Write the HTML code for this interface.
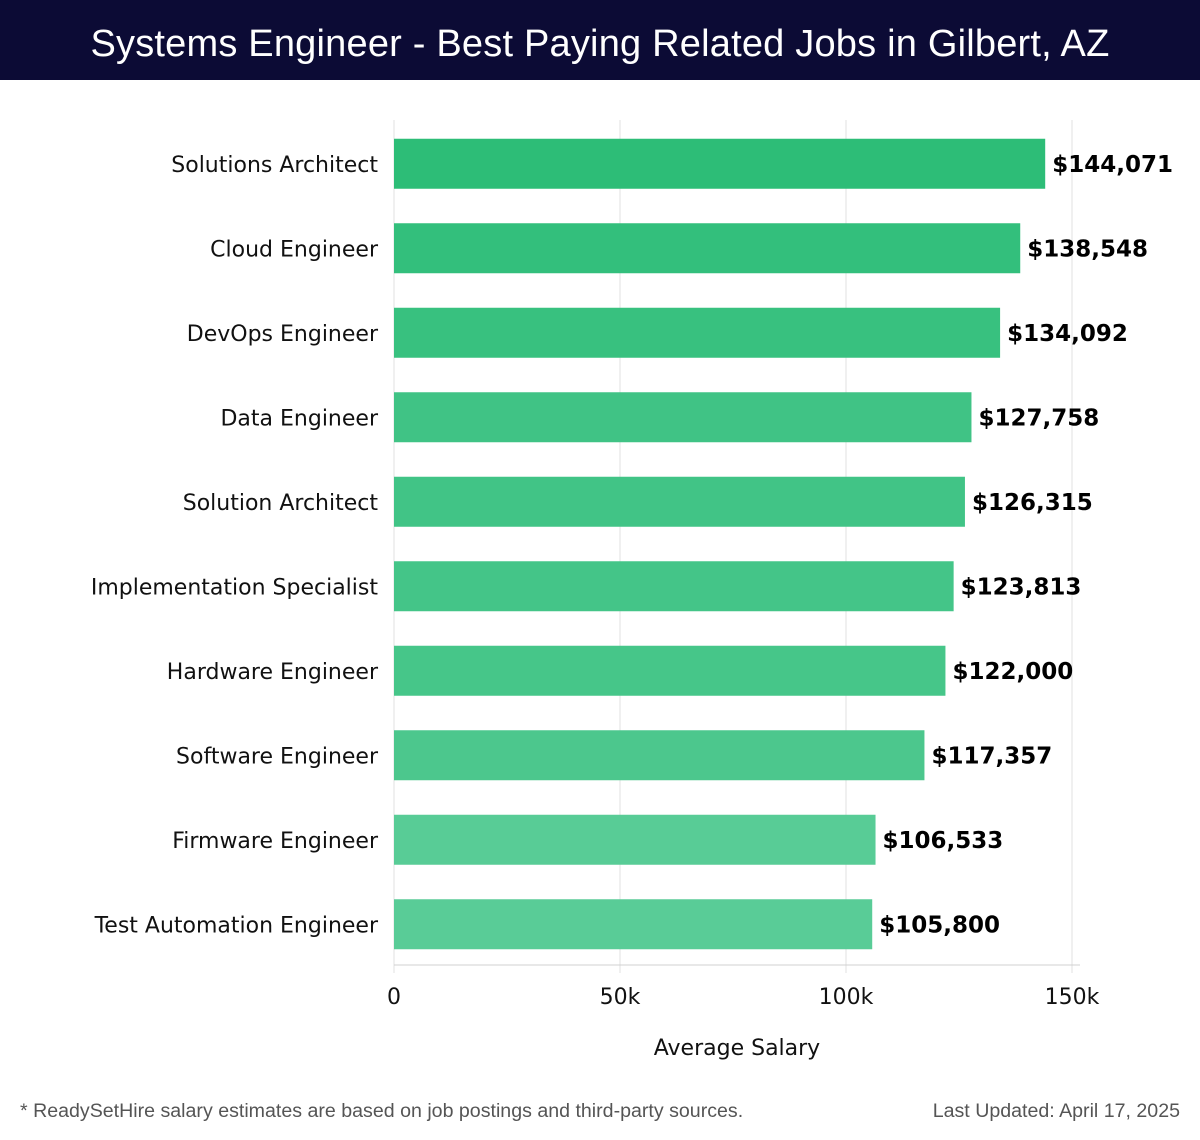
<!DOCTYPE html>
<html><head><meta charset="utf-8"><style>
body{margin:0;width:1200px;height:1140px;background:#fff;overflow:hidden;font-family:"DejaVu Sans","Liberation Sans",sans-serif}
#hdr{position:absolute;left:0;top:0;width:1200px;height:80px;background:#0c0b35;color:#fff;font:38px "Liberation Sans",sans-serif;text-align:center;line-height:88px;letter-spacing:0.2px}
.foot{position:absolute;top:1100px;font:19.6px "Liberation Sans",sans-serif;color:#555}
</style></head><body>
<div id="hdr">Systems Engineer - Best Paying Related Jobs in Gilbert, AZ</div>
<svg id="chart" width="1200" height="1140" style="position:absolute;left:0;top:0"></svg>
<div class="foot" style="left:20px">* ReadySetHire salary estimates are based on job postings and third-party sources.</div>
<div class="foot" style="right:20px">Last Updated: April 17, 2025</div>
<script>
const categories=["Solutions Architect","Cloud Engineer","DevOps Engineer","Data Engineer","Solution Architect","Implementation Specialist","Hardware Engineer","Software Engineer","Firmware Engineer","Test Automation Engineer"];
const salaries=[144071,138548,134092,127758,126315,123813,122000,117357,106533,105800];
const ticks=[0,50000,100000,150000];
const tickLabels=["0","50k","100k","150k"];
const NS="http://www.w3.org/2000/svg",svgEl=document.getElementById('chart');
const x0=394,x1=1072,xmax=150000,yTop=120,yBottom=965;
const xs=v=>x0+(v/xmax)*(x1-x0);
const band=(yBottom-yTop)/categories.length;
function mk(t,a,txt){const e=document.createElementNS(NS,t);for(const k in a)e.setAttribute(k,a[k]);if(txt!=null)e.textContent=txt;svgEl.appendChild(e);return e;}
ticks.forEach((t,i)=>{
 const g=mk('line',{x1:xs(t),x2:xs(t),y1:yTop,y2:973,stroke:'#e0e0e0','stroke-width':1});
 
 
 const l=mk('text',{x:xs(t),y:1004,'text-anchor':'middle','font-size':22,fill:'#111'},tickLabels[i]);
 
 
});
const ax=mk('line',{x1:x0,x2:1080,y1:yBottom,y2:yBottom,stroke:'#d0d0d0','stroke-width':1});


const vmax=Math.max(...salaries),vmin=Math.min(...salaries);
function col(v){const f=(vmax-v)/(vmax-vmin||1);const a=[45,189,119],b=[89,204,151];return 'rgb('+a.map((c,i)=>Math.round(c+(b[i]-c)*f)).join(',')+')';}
categories.forEach((c,i)=>{
 const y=yTop+band*i+(band-50)/2+1.5;
 const r=mk('rect',{x:x0,y:y,width:xs(salaries[i])-x0,height:50,fill:col(salaries[i])});
 
 
 const lb=mk('text',{x:378,y:y+33,'text-anchor':'end','font-size':22,fill:'#111'},c);
 
 
 const vl=mk('text',{x:xs(salaries[i])+7,y:y+33,'font-size':23,'font-weight':'bold',fill:'#000'},'$'+salaries[i].toLocaleString('en-US'));
 
 
});
const tt=mk('text',{x:737,y:1055,'text-anchor':'middle','font-size':22,fill:'#111'},'Average Salary');


</script>
</body></html>
